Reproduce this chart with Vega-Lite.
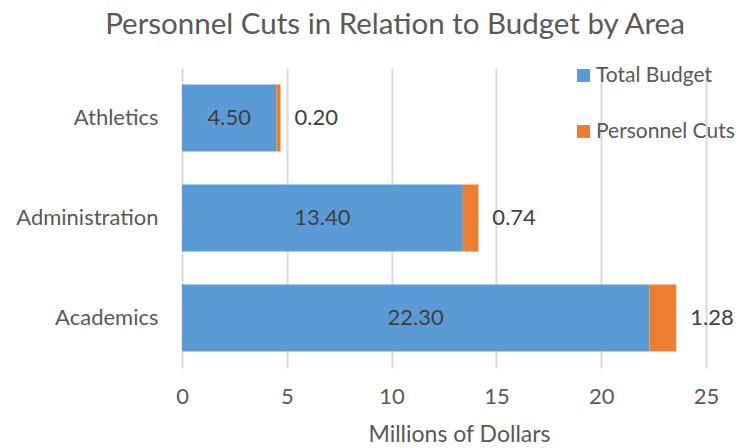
{
  "$schema": "https://vega.github.io/schema/vega-lite/v6.json",
  "width": 524,
  "height": 300,
  "autosize": "none",
  "padding": {"left": 182, "top": 68, "right": 34, "bottom": 80},
  "background": "white",
  "title": {
    "text": "Personnel Cuts in Relation to Budget by Area",
    "font": "Lato",
    "fontSize": 29.5,
    "fontWeight": "normal",
    "color": "#595959",
    "anchor": "middle",
    "frame": "group",
    "dx": -49,
    "offset": 25
  },
  "config": {
    "view": {"stroke": null},
    "font": "Lato"
  },
  "data": {
    "values": [
      {"area": "Athletics", "series": "Total Budget", "value": 4.50, "ord": 1},
      {"area": "Athletics", "series": "Personnel Cuts", "value": 0.20, "ord": 2},
      {"area": "Administration", "series": "Total Budget", "value": 13.40, "ord": 1},
      {"area": "Administration", "series": "Personnel Cuts", "value": 0.74, "ord": 2},
      {"area": "Academics", "series": "Total Budget", "value": 22.30, "ord": 1},
      {"area": "Academics", "series": "Personnel Cuts", "value": 1.28, "ord": 2}
    ]
  },
  "encoding": {
    "y": {
      "field": "area",
      "type": "nominal",
      "sort": ["Athletics", "Administration", "Academics"],
      "scale": {"paddingInner": 0.33, "paddingOuter": 0.165},
      "axis": {
        "title": null,
        "domain": false,
        "ticks": false,
        "tickSize": 0,
        "labelPadding": 24,
        "labelFont": "Lato",
        "labelFontSize": 22,
        "labelColor": "#595959",
        "grid": false
      }
    }
  },
  "layer": [
    {
      "mark": {"type": "bar"},
      "encoding": {
        "x": {
          "field": "value",
          "type": "quantitative",
          "stack": "zero",
          "scale": {"domain": [0, 25], "nice": false},
          "axis": {
            "title": "Millions of Dollars",
            "values": [0, 5, 10, 15, 20, 25],
            "domain": false,
            "ticks": false,
            "tickSize": 0,
            "grid": true,
            "gridColor": "#D9D9D9",
            "gridWidth": 2,
            "labelFlush": false,
            "labelPadding": 18,
            "labelFont": "Lato",
            "labelFontSize": 22,
            "labelColor": "#595959",
            "titleFont": "Lato",
            "titleFontSize": 23,
            "titleFontWeight": "normal",
            "titleColor": "#595959",
            "titlePadding": 16,
            "titleX": 277
          }
        },
        "color": {
          "field": "series",
          "type": "nominal",
          "scale": {"domain": ["Total Budget", "Personnel Cuts"], "range": ["#5B9BD5", "#ED7D31"]},
          "legend": {
            "title": null,
            "orient": "none",
            "legendX": 391,
            "legendY": -3,
            "symbolType": "square",
            "symbolSize": 169,
            "symbolStrokeWidth": 0,
            "symbolOpacity": 1,
            "labelFont": "Lato",
            "labelFontSize": 21,
            "labelColor": "#595959",
            "labelOffset": 2,
            "labelLimit": 300,
            "rowPadding": 34
          }
        },
        "order": {"field": "ord", "type": "quantitative"}
      }
    },
    {
      "transform": [
        {"filter": "datum.series === 'Total Budget'"},
        {"calculate": "datum.value / 2", "as": "mid"}
      ],
      "mark": {"type": "text", "font": "Lato", "fontSize": 22, "color": "#404040", "align": "center", "baseline": "middle"},
      "encoding": {
        "x": {"field": "mid", "type": "quantitative"},
        "text": {"field": "value", "type": "quantitative", "format": ".2f"}
      }
    },
    {
      "transform": [
        {"joinaggregate": [{"op": "sum", "field": "value", "as": "total"}], "groupby": ["area"]},
        {"filter": "datum.series === 'Personnel Cuts'"}
      ],
      "mark": {"type": "text", "font": "Lato", "fontSize": 22, "color": "#404040", "align": "left", "baseline": "middle", "dx": 14},
      "encoding": {
        "x": {"field": "total", "type": "quantitative"},
        "text": {"field": "value", "type": "quantitative", "format": ".2f"}
      }
    }
  ]
}
